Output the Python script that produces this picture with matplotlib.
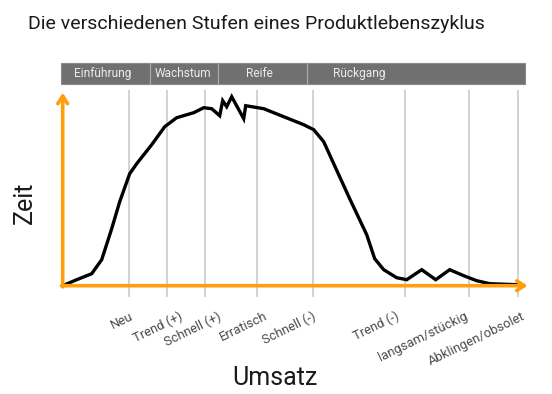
import matplotlib
matplotlib.use("Agg")
import matplotlib.pyplot as plt
from matplotlib.patches import Rectangle

plt.rcParams['font.family'] = ['Roboto', 'DejaVu Sans']

# ---- data ----
curve_x = [0, 14, 29, 39, 49, 57, 67, 74, 89, 102, 114, 131, 141, 149, 157,
           160, 164, 169, 181, 183, 201, 221, 241, 251, 261, 271, 287, 304,
           312, 321, 334, 344, 359, 373, 387, 401, 414, 427, 454]
curve_y = [0, 6, 12, 26, 57, 84, 112, 122, 141, 159, 168, 173, 178, 177, 170,
           185, 179, 189, 167, 180, 177, 169, 161, 156, 144, 122, 87, 51,
           27, 16, 8, 6, 16, 6, 16, 10, 5, 2, 1]

grid_x = [66.6, 104, 142.6, 194.6, 250.3, 342.6, 406.6, 455.6]
stage_labels = ["Neu", "Trend (+)", "Schnell (+)", "Erratisch", "Schnell (-)",
                "Trend (-)", "langsam/stückig", "Abklingen/obsolet"]
label_x = [67, 116, 155, 201, 249, 333, 401, 459]

phases = ["Einführung", "Wachstum", "Reife", "Rückgang"]
phase_edges = [-1.7, 87.3, 155.6, 244, 462.3]
phase_text_x = [40, 120, 197, 297]

title = "Die verschiedenen Stufen eines Produktlebenszyklus"
xlabel = "Umsatz"
ylabel = "Zeit"

# ---- figure (data units = pixels, origin at axis corner) ----
W, H = 552, 394
ox, oy = 62.7, 285.7
fig = plt.figure(figsize=(W / 100, H / 100), dpi=100)
ax = fig.add_axes([0, 0, 1, 1])
ax.set_xlim(-ox, W - ox)
ax.set_ylim(-(H - oy), oy)
ax.axis('off')

orange = '#ff9e0f'

# grid lines
for gx in grid_x:
    ax.plot([gx, gx], [-11, 195.7], color='#d2d2d2', lw=1.4, zorder=1,
            solid_capstyle='butt')

# header bar
y0, y1 = oy - 84.3, oy - 63.3
ax.add_patch(Rectangle((phase_edges[0], y0), phase_edges[-1] - phase_edges[0],
                       y1 - y0, facecolor='#707070', edgecolor='#8a8a8a',
                       lw=0.8, zorder=2))
for e in phase_edges[1:-1]:
    ax.plot([e, e], [y0, y1], color='#a8a8a8', lw=0.9, zorder=3)
for name, tx in zip(phases, phase_text_x):
    ax.text(tx, (y0 + y1) / 2, name, ha='center', va='center',
            color='#ececec', fontsize=8.6, zorder=4)

# curve
ax.plot(curve_x, curve_y, color='black', lw=2.4, zorder=5,
        solid_joinstyle='miter', solid_capstyle='round')

# axes arrows
ax.annotate('', xy=(0, 193), xytext=(0, -1.2),
            arrowprops=dict(arrowstyle='->,head_length=0.55,head_width=0.35',
                            color=orange, lw=2.6, shrinkA=0, shrinkB=0),
            zorder=6)
ax.annotate('', xy=(465, 0), xytext=(-1.2, 0),
            arrowprops=dict(arrowstyle='->,head_length=0.55,head_width=0.35',
                            color=orange, lw=2.6, shrinkA=0, shrinkB=0),
            zorder=6)

# stage labels
for lx, lab in zip(label_x, stage_labels):
    ax.text(lx, -24, lab, ha='right', va='top', rotation=26,
            rotation_mode='anchor', fontsize=9.4, color='#4a4a4a')

# titles
ax.text(256.5 - ox, oy - 24, title, ha='center', va='center',
        fontsize=14, color='#1a1a1a')
ax.text(275 - ox, oy - 378, xlabel, ha='center', va='center',
        fontsize=18, color='#1a1a1a')
ax.text(25 - ox, oy - 203, ylabel, ha='center', va='center', rotation=90,
        fontsize=18, color='#1a1a1a')

fig.savefig('out.png', dpi=100, facecolor='white')
